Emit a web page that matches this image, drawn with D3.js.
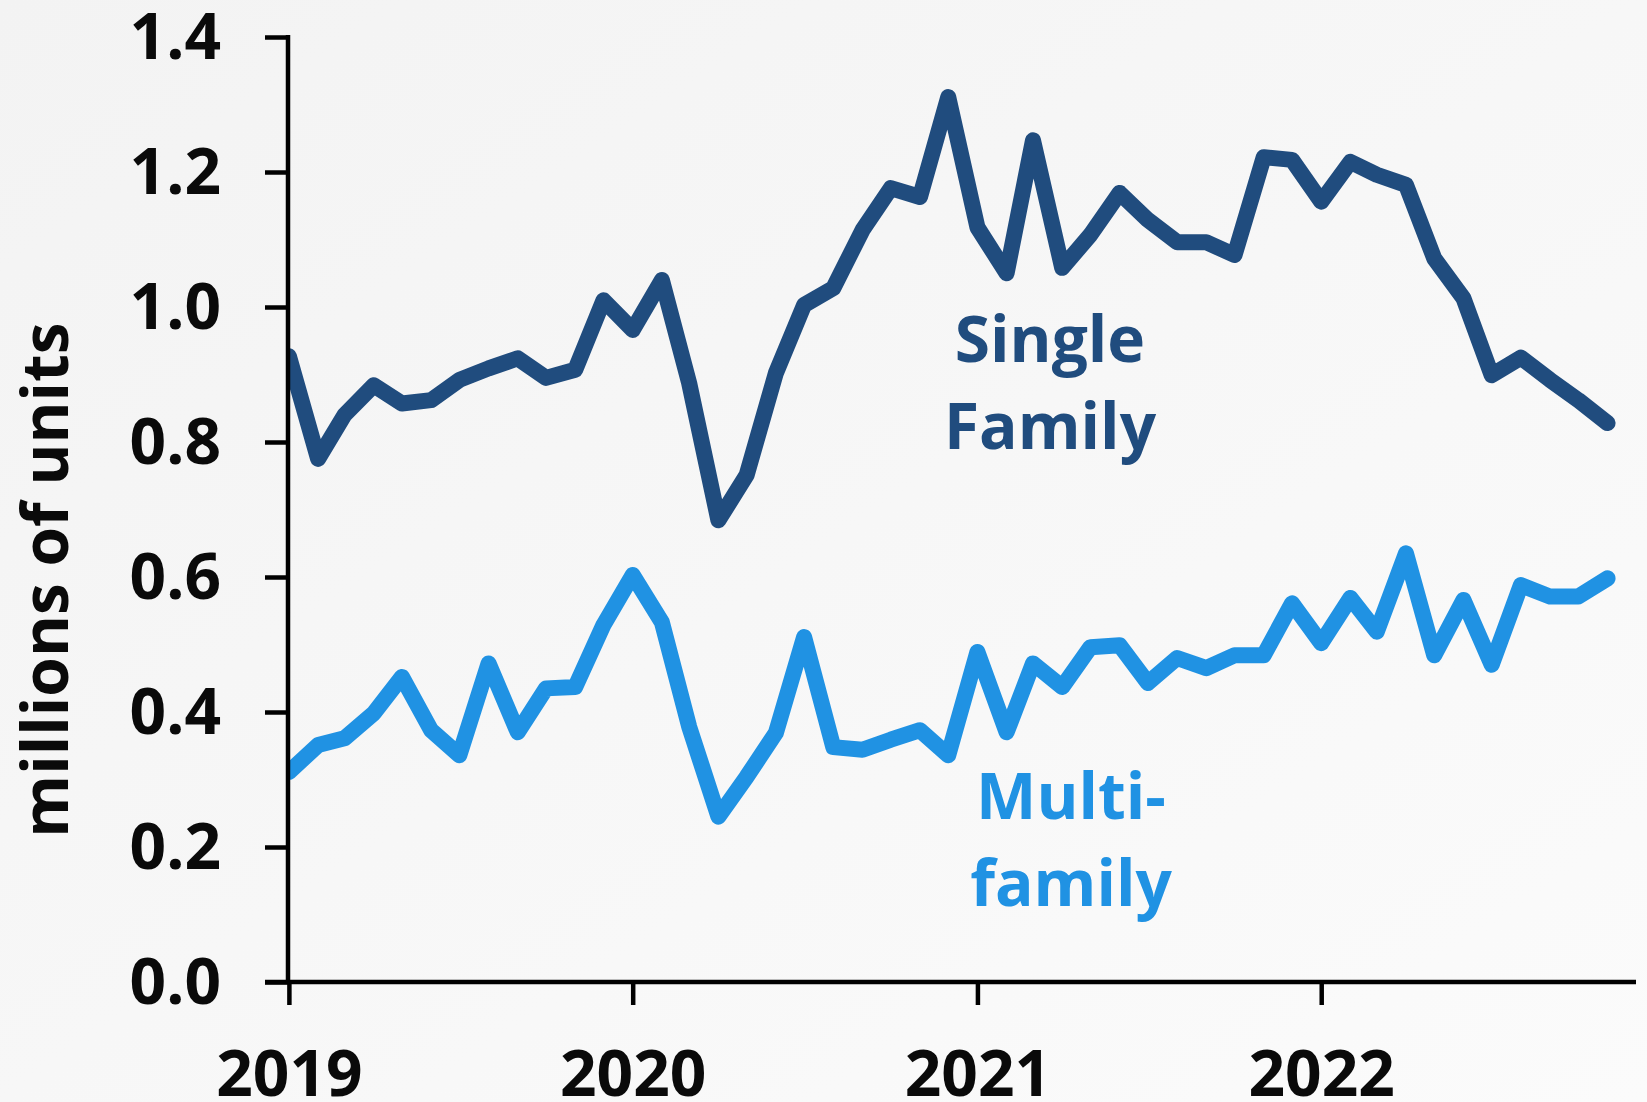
<!DOCTYPE html>
<html>
<head>
<meta charset="utf-8">
<script src="https://cdn.jsdelivr.net/npm/d3@7"></script>
<style>
  html, body { margin: 0; padding: 0; }
  body { width: 1647px; height: 1102px; overflow: hidden; }
  svg { display: block; font-family: "Open Sans", sans-serif; font-weight: 700; }
</style>
</head>
<body>
<svg id="chart" width="1647" height="1102"></svg>
<script>
// monthly, Jan 2019 .. Nov 2022 (millions of units, SAAR)
const startMonth = new Date(2019, 0, 1)
const singleFamily = [
  0.927, 0.775, 0.840, 0.884, 0.857, 0.862, 0.892, 0.909, 0.924, 0.895, 0.907, 1.010,
  0.966, 1.040, 0.887, 0.684, 0.751, 0.902, 1.003, 1.028, 1.114, 1.176, 1.163, 1.311,
  1.118, 1.050, 1.247, 1.058, 1.107, 1.169, 1.129, 1.096, 1.096, 1.077, 1.222, 1.218,
  1.156, 1.215, 1.196, 1.181, 1.072, 1.013, 0.899, 0.925, 0.892, 0.862, 0.828
]
const multiFamily = [
  0.311, 0.351, 0.361, 0.398, 0.452, 0.373, 0.336, 0.472, 0.370, 0.435, 0.437, 0.529,
  0.603, 0.533, 0.378, 0.245, 0.304, 0.369, 0.511, 0.348, 0.344, 0.359, 0.373, 0.336,
  0.489, 0.370, 0.472, 0.437, 0.496, 0.499, 0.443, 0.480, 0.465, 0.484, 0.484, 0.561,
  0.502, 0.569, 0.519, 0.635, 0.484, 0.566, 0.470, 0.588, 0.571, 0.571, 0.598
]
const yTicks = [0, 0.2, 0.4, 0.6, 0.8, 1.0, 1.2, 1.4]
const yearTicks = [2019, 2020, 2021, 2022]

const svg = d3.select('#chart')

// soft diagonal background
const defs = svg.append('defs')
const bg = defs.append('linearGradient')
  .attr('id', 'bg')
  .attr('x1', '0%').attr('y1', '0%')
  .attr('x2', '100%').attr('y2', '100%')
bg.append('stop').attr('offset', '0%').attr('stop-color', '#f3f3f3')
bg.append('stop').attr('offset', '100%').attr('stop-color', '#fbfbfb')
svg.append('rect').attr('width', 1647).attr('height', 1102).attr('fill', 'url(#bg)')

const x = d3.scaleTime()
  .domain([new Date(2019, 0, 1), new Date(2023, 0, 1)])
  .range([288.9, 1665])
const y = d3.scaleLinear().domain([0, 1.4]).range([982, 37])

const month = i => d3.timeMonth.offset(startMonth, i)

defs.append('clipPath').attr('id', 'plot')
  .append('rect').attr('x', 288).attr('y', 0).attr('width', 1400).attr('height', 1000)

const line = d3.line()
  .x((d, i) => x(month(i)))
  .y(d => y(d))

const g = svg.append('g').attr('clip-path', 'url(#plot)')
g.append('path')
  .datum(singleFamily)
  .attr('d', line)
  .attr('fill', 'none')
  .attr('stroke', '#204c7e')
  .attr('stroke-width', 16)
  .attr('stroke-linejoin', 'round')
  .attr('stroke-linecap', 'round')
g.append('path')
  .datum(multiFamily)
  .attr('d', line)
  .attr('fill', 'none')
  .attr('stroke', '#2092e3')
  .attr('stroke-width', 16)
  .attr('stroke-linejoin', 'round')
  .attr('stroke-linecap', 'round')

// y axis
const yAxis = svg.append('g')
  .attr('transform', 'translate(288,0)')
  .call(d3.axisLeft(y).tickValues(yTicks).tickFormat(d3.format('.1f')).tickSize(23).tickPadding(44))
yAxis.select('.domain').remove()
yAxis.append('line')
  .attr('x1', 0).attr('x2', 0).attr('y1', y(1.4) - 2).attr('y2', y(0))
  .attr('stroke', '#000').attr('stroke-width', 4.5)
yAxis.selectAll('.tick line').attr('stroke', '#000').attr('stroke-width', 4.5)
yAxis.selectAll('.tick text')
  .attr('fill', '#0a0a0a')
  .attr('font-size', 64)
  .attr('font-family', '"Open Sans", sans-serif')
  .attr('font-weight', 700)
  .attr('dy', '0.33em')

// x axis
const xAxis = svg.append('g')
  .attr('transform', 'translate(0,982)')
  .call(d3.axisBottom(x)
    .tickValues(yearTicks.map(yr => new Date(yr, 0, 1)))
    .tickFormat(d3.timeFormat('%Y'))
    .tickSize(23).tickPadding(46))
xAxis.select('.domain').remove()
xAxis.append('line')
  .attr('x1', 265).attr('x2', 1636).attr('y1', 0).attr('y2', 0)
  .attr('stroke', '#000').attr('stroke-width', 4.5)
xAxis.selectAll('.tick line').attr('stroke', '#000').attr('stroke-width', 4.5)
xAxis.selectAll('.tick text')
  .attr('fill', '#0a0a0a')
  .attr('font-size', 64)
  .attr('font-family', '"Open Sans", sans-serif')
  .attr('font-weight', 700)
  .attr('dy', '0.71em')

// axis title
svg.append('text')
  .attr('transform', 'translate(68,580) rotate(-90)')
  .attr('text-anchor', 'middle')
  .attr('font-size', 64)
  .attr('fill', '#0a0a0a')
  .text('millions of units')

// series labels
const labels = [
  { lines: ['Single', 'Family'], x: 1050, y: 362, color: '#204c7e' },
  { lines: ['Multi-', 'family'], x: 1071, y: 819, color: '#2092e3' }
]
labels.forEach(l => {
  svg.append('text')
    .attr('text-anchor', 'middle')
    .attr('font-size', 64)
    .attr('fill', l.color)
    .selectAll('tspan')
    .data(l.lines)
    .join('tspan')
    .attr('x', l.x)
    .attr('y', (d, i) => l.y + i * 87)
    .text(d => d)
})
</script>
</body>
</html>
